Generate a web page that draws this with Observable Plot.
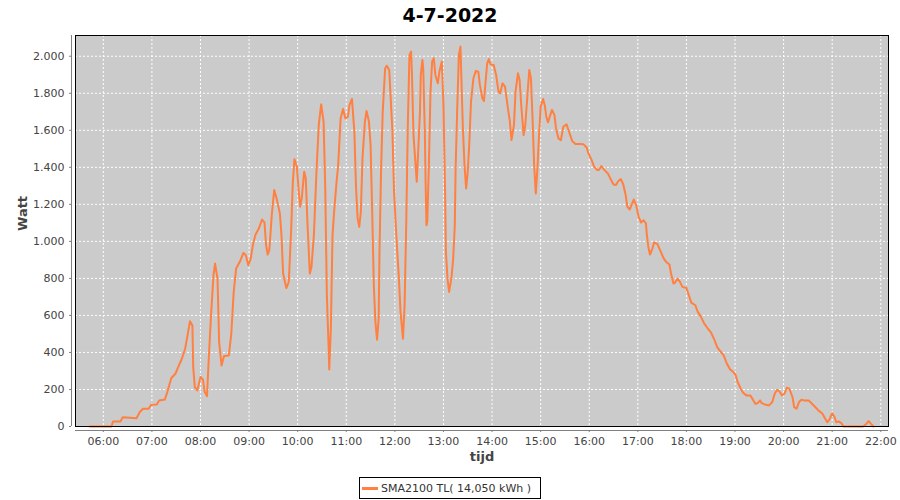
<!DOCTYPE html>
<html><head><meta charset="utf-8">
<script src="https://cdn.jsdelivr.net/npm/d3@7"></script>
<script src="https://cdn.jsdelivr.net/npm/@observablehq/plot@0.6"></script>
<style>
html,body{margin:0;padding:0;background:#fff;}
#wrap{position:relative;width:900px;height:500px;overflow:hidden;font-family:"DejaVu Sans",sans-serif;}
#title{position:absolute;left:0;top:0;width:900px;text-align:center;font-weight:bold;font-size:19px;line-height:30px;color:#000;}
#chart{position:absolute;left:0;top:30px;}
#legend{position:absolute;left:359px;top:477px;width:182px;height:22px;box-sizing:border-box;border:1px solid #000;background:#fff;font-size:11px;color:#333;display:flex;align-items:center;white-space:nowrap;}
#legend .sw{display:inline-block;width:16px;height:0;border-top:3px solid #ff8040;margin:0 3px 0 2px;}
</style></head><body>
<div id="wrap">
<div id="title"></div>
<div id="chart"></div>
<div id="legend"><span class="sw"></span><span id="legtext"></span></div>
</div>
<script>
const chartTitle = "4-7-2022";
const seriesName = "SMA2100 TL( 14,050 kWh )";
const xLabel = "tijd";
const yLabel = "Watt";

const times = ["05:43","06:10","06:12","06:21","06:24","06:41","06:45","06:49","06:56","06:59",
"07:06","07:09","07:16","07:19","07:24","07:29","07:33","07:37","07:41","07:44","07:47","07:50","07:51","07:53","07:56",
"08:00","08:03","08:05","08:08","08:10","08:13","08:16","08:18","08:21","08:23","08:26","08:29","08:35","08:38","08:41","08:44","08:49","08:53","08:56","08:59",
"09:02","09:05","09:08","09:12","09:16","09:19","09:21","09:23","09:25","09:28","09:31","09:34","09:38","09:40","09:42","09:46","09:49","09:52","09:54","09:56","09:59",
"10:01","10:03","10:05","10:08","10:10","10:12","10:15","10:17","10:20","10:23","10:26","10:29","10:32","10:34","10:36","10:38","10:39","10:41","10:43","10:45","10:48","10:50","10:53","10:56","10:59",
"11:02","11:04","11:07","11:10","11:12","11:14","11:16","11:18","11:20","11:23","11:25","11:28","11:30","11:32","11:34","11:36","11:38","11:40","11:41","11:43","11:45","11:48","11:50","11:53","11:54","11:57","11:59",
"12:02","12:05","12:07","12:10","12:12","12:14","12:16","12:18","12:20","12:21","12:23","12:25","12:27","12:28","12:31","12:32","12:34","12:35","12:37","12:38","12:39","12:40","12:42","12:44","12:46","12:48","12:50","12:53","12:55","12:58",
"13:00","13:02","13:03","13:05","13:07","13:10","13:12","13:14","13:15","13:17","13:19","13:21","13:22","13:24","13:26","13:28","13:30","13:32","13:34","13:37","13:40","13:43","13:45","13:48","13:50","13:52","13:54","13:56","13:58",
"14:02","14:05","14:08","14:10","14:13","14:16","14:19","14:22","14:24","14:27","14:29","14:32","14:34","14:36","14:39","14:41","14:44","14:46","14:48","14:50","14:52","14:54","14:56","14:58",
"15:00","15:03","15:05","15:07","15:09","15:12","15:14","15:17","15:19","15:22","15:25","15:28","15:32","15:35","15:39","15:43","15:48","15:53","15:57","15:59",
"16:03","16:06","16:10","16:12","16:15","16:18","16:23","16:27","16:30","16:33","16:36","16:39","16:42","16:45","16:47","16:50","16:53","16:55","16:58",
"17:01","17:04","17:07","17:10","17:11","17:13","17:15","17:18","17:20","17:24","17:28","17:32","17:35","17:39","17:41","17:44","17:46","17:49","17:52","17:55",
"18:00","18:03","18:06","18:11","18:14","18:18","18:22","18:26","18:30","18:34","18:38","18:42","18:46","18:50","18:54","18:58",
"19:01","19:03","19:07","19:10","19:14","19:19","19:22","19:25","19:28","19:31","19:33","19:38","19:42","19:46","19:49","19:52","19:55","19:58",
"20:01","20:04","20:07","20:11","20:13","20:16","20:19","20:22","20:26","20:31","20:35","20:39","20:43","20:48","20:51","20:54","20:57",
"21:00","21:03","21:05","21:08","21:11","21:14","21:38","21:42","21:45","21:48","21:51"];

const watts = [0,0,27,27,50,45,78,96,96,117,
119,140,146,186,262,285,326,366,420,492,568,546,321,213,195,
267,254,189,164,348,600,817,880,799,456,330,381,384,501,727,853,894,938,925,871,
907,988,1037,1069,1118,1102,979,929,952,1142,1277,1232,1151,1033,826,748,781,1069,1322,1444,1403,
1286,1187,1232,1376,1340,1105,826,862,1033,1358,1628,1740,1646,1295,709,456,308,537,1033,1160,1322,1412,1664,1715,1664,
1673,1737,1769,1592,1295,1124,1078,1160,1448,1647,1704,1647,1520,1160,763,564,469,582,943,1394,1701,1935,1949,1926,1845,1592,1268,
1015,799,619,474,655,1087,1628,2007,2025,1917,1574,1448,1322,1412,1701,1899,1980,1935,1592,1304,1087,1106,1412,1809,1971,1989,1899,1854,1917,1971,
1737,1268,943,799,727,808,907,1087,1394,1719,2007,2052,1899,1610,1412,1286,1376,1538,1755,1881,1921,1917,1845,1773,1758,1863,1962,1985,1957,
1953,1899,1809,1800,1854,1836,1737,1647,1547,1628,1809,1908,1872,1737,1574,1628,1809,1926,1881,1664,1412,1259,1394,1574,
1728,1769,1737,1673,1643,1683,1710,1683,1610,1556,1547,1619,1632,1592,1542,1526,1526,1524,1506,1475,
1439,1403,1385,1385,1407,1389,1367,1331,1307,1304,1326,1336,1307,1250,1187,1172,1205,1226,1196,
1132,1102,1114,1097,1042,970,929,961,994,986,947,907,889,875,826,772,777,799,781,754,
748,709,669,655,619,592,556,532,510,474,429,406,384,339,308,294,
276,243,204,182,168,168,146,123,126,141,126,117,114,132,177,198,189,168,
177,209,204,159,105,96,132,144,141,141,123,105,87,69,45,23,41,
72,50,23,27,20,0,0,14,29,14,0];

const xTicks = [6,7,8,9,10,11,12,13,14,15,16,17,18,19,20,21,22];
const xTickLabels = ["06:00","07:00","08:00","09:00","10:00","11:00","12:00","13:00","14:00","15:00","16:00","17:00","18:00","19:00","20:00","21:00","22:00"];
const yTicks = [0,200,400,600,800,1000,1200,1400,1600,1800,2000];
const yTickLabels = ["0","200","400","600","800","1.000","1.200","1.400","1.600","1.800","2.000"];
const xDomain = [5.4275, 22.1586];
const yDomain = [0, 2112];

const toHour = s => { const [h, m] = s.split(":").map(Number); return h + m / 60; };
const data = times.map((t, i) => ({hour: toHour(t), watt: watts[i]}));
const xLab = new Map(xTicks.map((d, i) => [d, xTickLabels[i]]));
const yLab = new Map(yTicks.map((d, i) => [d, yTickLabels[i]]));

document.getElementById("title").textContent = chartTitle;
document.getElementById("legtext").textContent = seriesName;

const chart = Plot.plot({
  width: 900,
  height: 445,
  marginLeft: 75,
  marginRight: 12,
  marginTop: 5,
  marginBottom: 49,
  style: {fontFamily: "DejaVu Sans, sans-serif", fontSize: "11px", color: "#444", background: "transparent", overflow: "visible"},
  x: {domain: xDomain},
  y: {domain: yDomain},
  marks: [
    Plot.frame({fill: "#cbcbcb"}),
    Plot.gridX(xTicks, {stroke: "#fff", strokeOpacity: 1, strokeDasharray: "2,2"}),
    Plot.gridY(yTicks, {stroke: "#fff", strokeOpacity: 1, strokeDasharray: "2,2"}),
    Plot.line(data, {x: "hour", y: "watt", stroke: "#ff8040", strokeWidth: 2}),
    Plot.frame({stroke: "#000"}),
    Plot.ruleX([xDomain[0]], {y1: yDomain[0], y2: yDomain[1], dx: -4, stroke: "#808080"}),
    Plot.ruleY([yDomain[0]], {x1: xDomain[0], x2: xDomain[1], dy: 4, stroke: "#808080"}),
    Plot.axisY(yTicks, {tickFormat: d => yLab.get(d), tickSize: 2, tickPadding: 5, dx: -4, fontSize: 11, label: null, stroke: "#808080", fill: "#444"}),
    Plot.axisX(xTicks, {tickFormat: d => xLab.get(d), tickSize: 2, tickPadding: 5, dy: 4, fontSize: 11, label: null, stroke: "#808080", fill: "#444"}),
    Plot.text([yLabel], {text: d => d, frameAnchor: "left", dx: -53, rotate: -90, fontSize: 13, fontWeight: "bold", fill: "#444"}),
    Plot.text([xLabel], {text: d => d, frameAnchor: "bottom", dy: 34, fontSize: 13, fontWeight: "bold", fill: "#444"})
  ]
});
document.getElementById("chart").appendChild(chart);
</script>
</body></html>
